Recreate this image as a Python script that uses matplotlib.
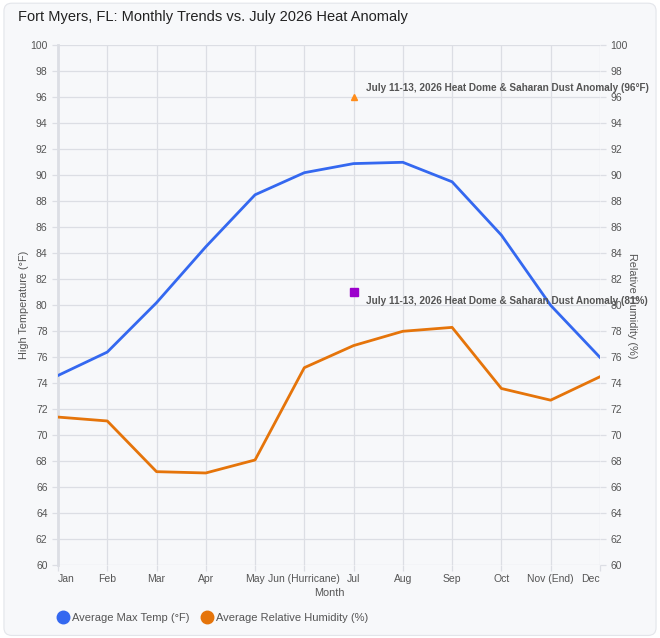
import matplotlib.pyplot as plt
from matplotlib.lines import Line2D
from matplotlib.patches import FancyBboxPatch
import numpy as np

# data
months = ["Jan", "Feb", "Mar", "Apr", "May", "Jun (Hurricane)", "Jul",
          "Aug", "Sep", "Oct", "Nov (End)", "Dec"]
max_temp = [74.6, 76.4, 80.2, 84.5, 88.5, 90.2, 90.9, 91.0, 89.5, 85.4, 80.0, 76.0]
humidity = [71.4, 71.1, 67.2, 67.1, 68.1, 75.2, 76.9, 78.0, 78.3, 73.6, 72.7, 74.5]
anomaly_month = "Jul"
anomaly_temp = 96
anomaly_humidity = 81
y_ticks = list(range(60, 101, 2))

plt.rcParams["font.family"] = ["Liberation Sans", "DejaVu Sans"]

blue = "#3468f0"
orange = "#e5740a"
grid_c = "#dcdee4"
text_c = "#555555"
card_c = "#f7f8fa"

fig = plt.figure(figsize=(6.6, 6.38), dpi=100)
fig.patch.set_facecolor("white")
card = FancyBboxPatch((0.006, 0.004), 0.988, 0.991, transform=fig.transFigure,
                      boxstyle="round,pad=0,rounding_size=0.012",
                      facecolor=card_c, edgecolor="#e3e5ea", linewidth=0.8,
                      zorder=-10)
fig.patches.append(card)

ax = fig.add_axes([0.0879, 0.114, 0.821, 0.815])
ax.set_facecolor(card_c)
x = np.arange(len(months))

ax.plot(x, max_temp, color=blue, linewidth=2, zorder=3)
ax2 = ax.twinx()
ax2.plot(x, humidity, color=orange, linewidth=2, zorder=3)

ax.set_xlim(0, len(months) - 1)
ax.set_ylim(60, 100)
ax2.set_ylim(60, 100)
ax.set_yticks(y_ticks)
ax2.set_yticks(y_ticks)
ax.set_xticks(x)
ax.set_xticklabels(months)
labels = ax.get_xticklabels()
labels[0].set_ha("left")
labels[-1].set_ha("right")

ax.grid(True, color=grid_c, linewidth=0.9)
ax.set_axisbelow(True)
for a in (ax, ax2):
    for s in a.spines.values():
        s.set_visible(False)
    a.tick_params(colors=grid_c, labelcolor=text_c, labelsize=7.5, length=4, width=0.9)
ax.tick_params(axis="x", pad=2.5)
ax.spines["left"].set_visible(True)
ax.spines["left"].set_color(grid_c)
ax.spines["left"].set_linewidth(2)

ax.set_xlabel("Month", color=text_c, fontsize=7.8, labelpad=3)
ax.set_ylabel("High Temperature (°F)", color=text_c, fontsize=7.8, labelpad=1)
ax2.set_ylabel("Relative Humidity (%)", color=text_c, fontsize=7.8, rotation=270, labelpad=7)

# anomaly points
ja = months.index(anomaly_month)
ax.plot([ja], [anomaly_temp], marker="^", color="#ff8c1a", markersize=4.8,
        linestyle="none", zorder=5)
ax.annotate(f"July 11-13, 2026 Heat Dome & Saharan Dust Anomaly ({anomaly_temp}°F)",
            (ja, anomaly_temp), xytext=(9, 6.5), textcoords="offset points",
            ha="left", va="center", fontsize=7.2, fontweight="bold", color="#555555",
            zorder=6, annotation_clip=False)
ax2.plot([ja], [anomaly_humidity], marker="s", color="#9b00cc", markersize=5.3,
         linestyle="none", zorder=5)
ax2.annotate(f"July 11-13, 2026 Heat Dome & Saharan Dust Anomaly ({anomaly_humidity}%)",
             (ja, anomaly_humidity), xytext=(9, -6), textcoords="offset points",
             ha="left", va="center", fontsize=7.2, fontweight="bold", color="#555555",
             zorder=6, annotation_clip=False)

fig.text(0.027, 0.973, "Fort Myers, FL: Monthly Trends vs. July 2026 Heat Anomaly",
         ha="left", va="center", fontsize=10.5, color="#222222")

handles = [Line2D([], [], marker="o", linestyle="none", markersize=9, color=blue),
           Line2D([], [], marker="o", linestyle="none", markersize=9, color=orange)]
fig.legend(handles, ["Average Max Temp (°F)", "Average Relative Humidity (%)"],
           loc="center left", bbox_to_anchor=(0.07, 0.031), frameon=False, ncol=2,
           fontsize=8, labelcolor=text_c, handletextpad=0.2, columnspacing=1.0,
           handlelength=1.2)

plt.savefig("out.png", dpi=100, facecolor=fig.get_facecolor())
